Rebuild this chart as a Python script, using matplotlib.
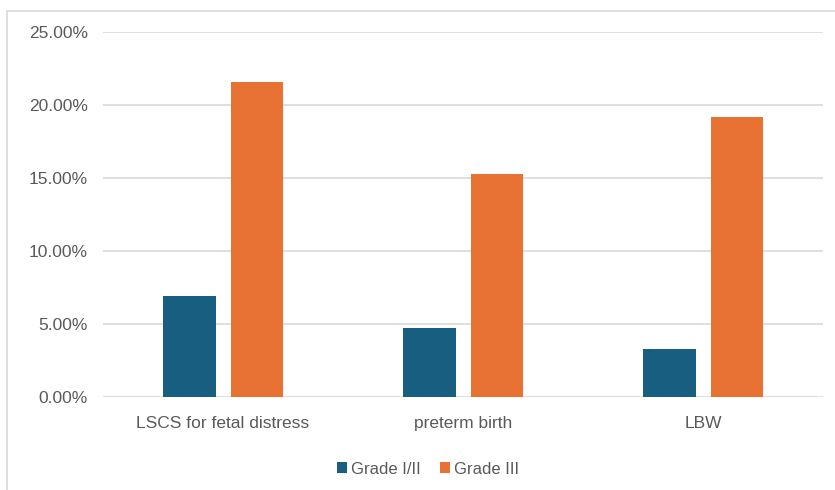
import matplotlib
matplotlib.use('Agg')
import matplotlib.pyplot as plt
import numpy as np
from matplotlib.patches import Rectangle
from matplotlib.ticker import FuncFormatter

categories = ['LSCS for fetal distress', 'preterm birth', 'LBW']
grade_1_2 = [0.069, 0.047, 0.033]
grade_3 = [0.216, 0.153, 0.192]
series_names = ['Grade I/II', 'Grade III']

plt.rcParams['font.family'] = ['Liberation Sans', 'DejaVu Sans']

fig = plt.figure(figsize=(8.35, 4.9), dpi=100)
ax = fig.add_axes([103 / 835, 1 - 397 / 490, 720 / 835, 365 / 490])

# outer chart frame
fig.patches.append(Rectangle((7 / 835, -0.05), 1.0, 1 - 11 / 490 + 0.05,
                             transform=fig.transFigure, fill=False,
                             edgecolor='#d9d9d9', linewidth=1.2))

x = np.arange(len(categories))
w = 0.22
gap = 0.0625
ax.bar(x - (w + gap) / 2, grade_1_2, w, color='#185e80', label=series_names[0], zorder=3)
ax.bar(x + (w + gap) / 2, grade_3, w, color='#e87234', label=series_names[1], zorder=3)

ax.set_xlim(-0.5, len(categories) - 0.5)
ax.set_ylim(0, 0.25)
ax.set_yticks(np.arange(0, 0.2501, 0.05))
ax.yaxis.set_major_formatter(FuncFormatter(lambda v, p: f'{v * 100:.2f}%'))
ax.grid(axis='y', color='#d9d9d9', linewidth=1.2, zorder=0)
for s in ax.spines.values():
    s.set_visible(False)
ax.tick_params(length=0, labelsize=12.5, labelcolor='#595959')
ax.tick_params(axis='y', pad=11)
ax.tick_params(axis='x', pad=14)
ax.set_xticks(x)
ax.set_xticklabels(categories)

leg = fig.legend(loc='center', bbox_to_anchor=(428 / 835, 1 - 469 / 490), ncol=2,
                 frameon=False, fontsize=12, handlelength=0.6, handleheight=0.6,
                 handletextpad=0.2, columnspacing=1.2)
for t in leg.get_texts():
    t.set_color('#595959')

fig.savefig('out.png', dpi=100)
